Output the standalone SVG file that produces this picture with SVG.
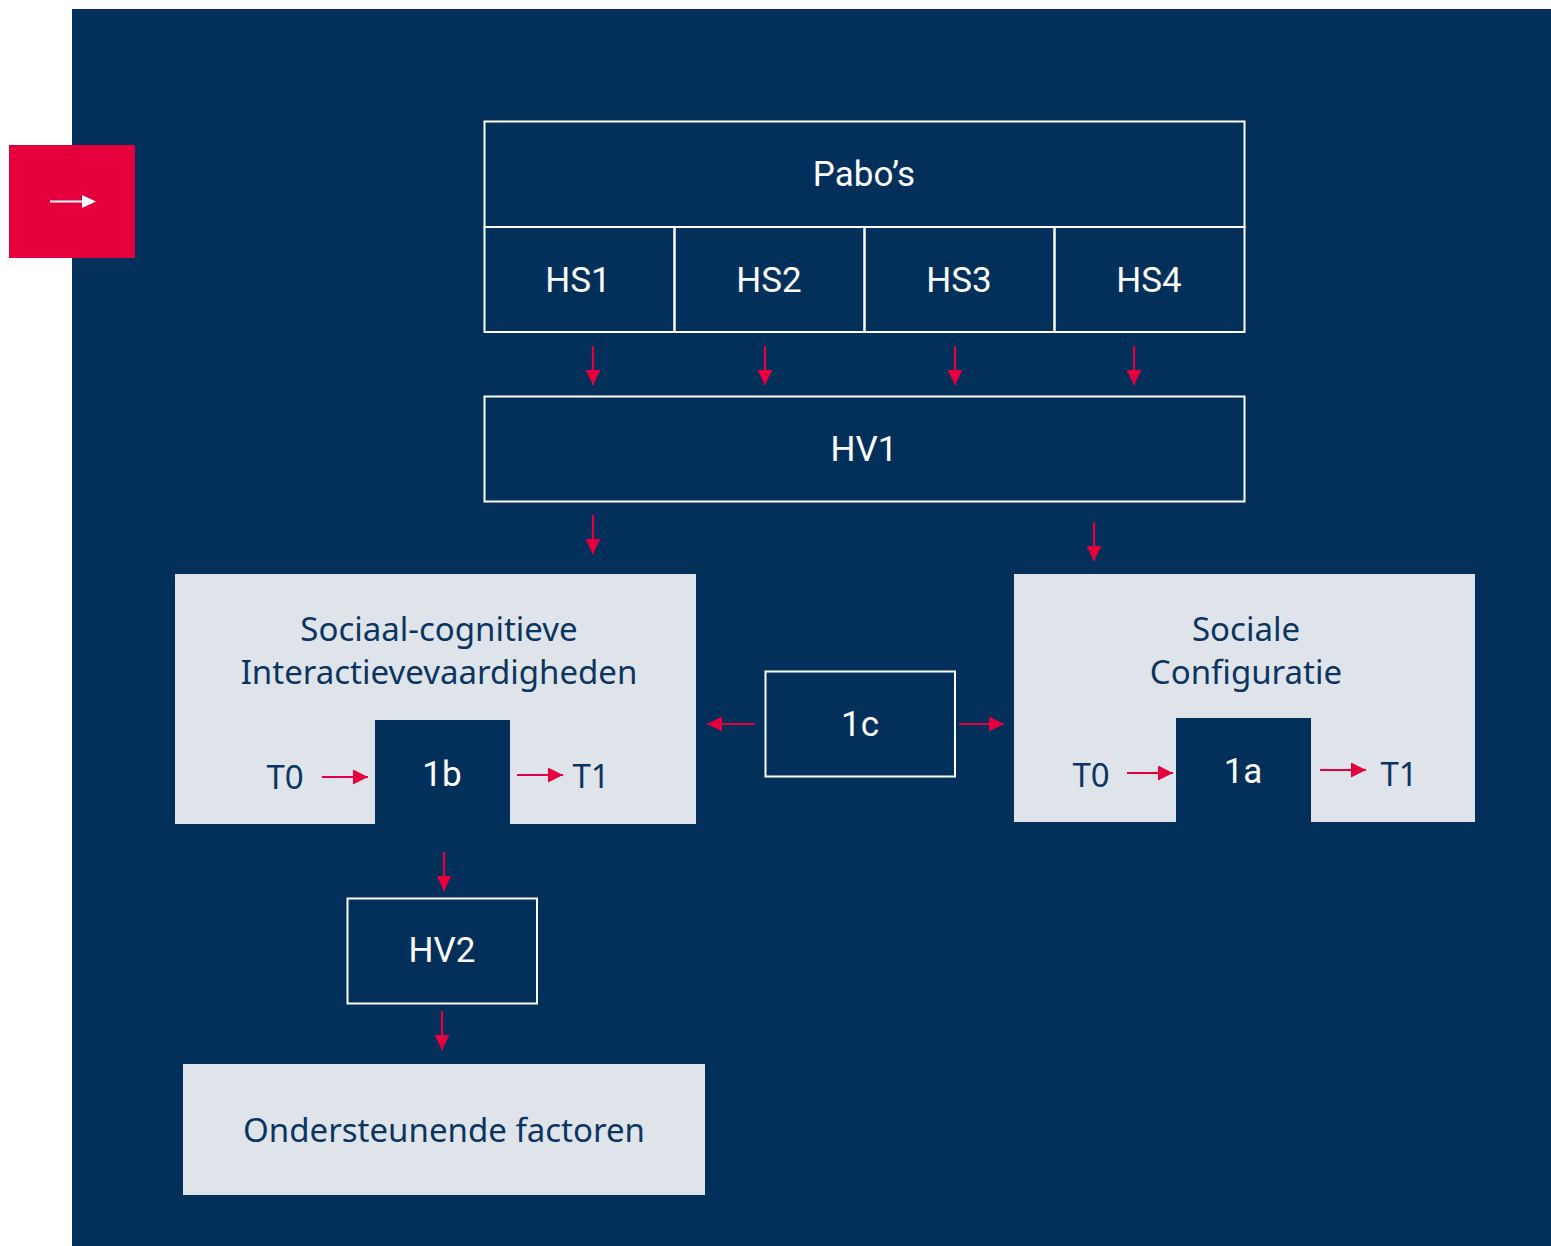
<svg xmlns="http://www.w3.org/2000/svg" width="1551" height="1246" viewBox="0 0 1551 1246">
<defs>
<style>
.bx{fill:none;stroke:#ffffff;stroke-width:2}
.gr{fill:#DFE4EB}
.dk{fill:#02305B}
.wt{font-family:Roboto,"Liberation Sans",sans-serif;font-size:35px;fill:#ffffff;text-anchor:middle}
.nt{font-family:"Noto Sans","Open Sans",sans-serif;font-size:33px;fill:#0B3560;text-anchor:middle}
.ar{stroke:#E5003D;stroke-width:2.2;fill:none;marker-end:url(#ah)}
</style>
<marker id="ah" viewBox="0 0 14 14" refX="14" refY="7" markerWidth="15" markerHeight="15" orient="auto" markerUnits="userSpaceOnUse">
<path d="M0,0 L14,7 L0,14 z" fill="#E5003D"/>
</marker>
</defs>
<rect x="0" y="0" width="1551" height="1246" fill="#ffffff"/>
<rect x="72" y="9" width="1479" height="1237" fill="#02305B"/>
<g id="tag">
<rect x="9" y="145" width="126" height="113" fill="#E5003D"/>
<line x1="50" y1="201.5" x2="83" y2="201.5" stroke="#ffffff" stroke-width="2"/>
<path d="M82,195 L96,201.5 L82,208 z" fill="#ffffff"/>
</g>
<g id="pabos">
<rect class="bx" x="484.5" y="121.5" width="760" height="105.5"/>
<text class="wt" x="864" y="186">Pabo’s</text>
</g>
<g id="hs1"><rect class="bx" x="484.5" y="227" width="190" height="105"/><text class="wt" x="578" y="292">HS1</text></g>
<g id="hs2"><rect class="bx" x="674.5" y="227" width="190" height="105"/><text class="wt" x="769" y="292">HS2</text></g>
<g id="hs3"><rect class="bx" x="864.5" y="227" width="190" height="105"/><text class="wt" x="959" y="292">HS3</text></g>
<g id="hs4"><rect class="bx" x="1054.5" y="227" width="190" height="105"/><text class="wt" x="1149" y="292">HS4</text></g>
<g id="hv1"><rect class="bx" x="484.5" y="396.5" width="760" height="105"/><text class="wt" x="864" y="461">HV1</text></g>
<g id="sociaal">
<rect class="gr" x="175" y="574" width="521" height="250"/>
<text class="nt" x="439" y="641">Sociaal-cognitieve</text>
<text class="nt" x="439" y="684">Interactievevaardigheden</text>
<text class="nt" x="285" y="789">T0</text>
<text class="nt" x="591" y="788">T1</text>
</g>
<g id="n1b"><rect class="dk" x="375" y="720" width="135" height="105"/><text class="wt" x="442" y="786">1b</text></g>
<g id="config">
<rect class="gr" x="1014" y="574" width="461" height="248"/>
<text class="nt" x="1246" y="641">Sociale</text>
<text class="nt" x="1246" y="684">Configuratie</text>
<text class="nt" x="1091" y="787">T0</text>
<text class="nt" x="1399" y="786">T1</text>
</g>
<g id="n1a"><rect class="dk" x="1176" y="718" width="135" height="105"/><text class="wt" x="1243" y="783">1a</text></g>
<g id="n1c"><rect class="bx" x="765.5" y="671.5" width="189.5" height="105"/><text class="wt" x="860" y="736">1c</text></g>
<g id="hv2"><rect class="bx" x="347.5" y="898.5" width="189.5" height="105"/><text class="wt" x="442" y="962">HV2</text></g>
<g id="onder">
<rect class="gr" x="183" y="1064" width="522" height="131"/>
<text class="nt" x="444" y="1142">Ondersteunende factoren</text>
</g>
<g id="connectors">
<line class="ar" x1="593" y1="346" x2="593" y2="385"/>
<line class="ar" x1="765" y1="346" x2="765" y2="385"/>
<line class="ar" x1="955" y1="346" x2="955" y2="385"/>
<line class="ar" x1="1134" y1="346" x2="1134" y2="385"/>
<line class="ar" x1="593" y1="515" x2="593" y2="554"/>
<line class="ar" x1="1094" y1="522" x2="1094" y2="561"/>
<line class="ar" x1="755" y1="724" x2="707" y2="724"/>
<line class="ar" x1="959" y1="724" x2="1004" y2="724"/>
<line class="ar" x1="322" y1="777" x2="368" y2="777"/>
<line class="ar" x1="517" y1="775" x2="563" y2="775"/>
<line class="ar" x1="1127" y1="773" x2="1173" y2="773"/>
<line class="ar" x1="1320" y1="770" x2="1366" y2="770"/>
<line class="ar" x1="444" y1="852" x2="444" y2="891"/>
<line class="ar" x1="442" y1="1011" x2="442" y2="1050"/>
</g>
</svg>
